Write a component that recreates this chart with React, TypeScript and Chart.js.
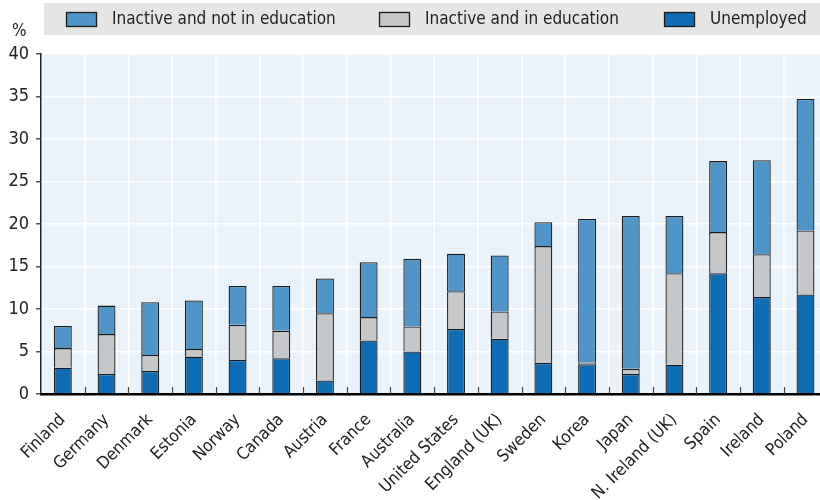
import React, { useEffect, useRef } from "react";
import { Chart, registerables } from "chart.js";

Chart.register(...registerables);

const categories = ["Finland", "Germany", "Denmark", "Estonia", "Norway", "Canada", "Austria", "France", "Australia", "United States", "England (UK)", "Sweden", "Korea", "Japan", "N. Ireland (UK)", "Spain", "Ireland", "Poland"];
const unemployed = [3.1, 2.35, 2.7, 4.4, 4.0, 4.2, 1.6, 6.3, 5.0, 7.65, 6.5, 3.65, 3.5, 2.35, 3.45, 14.2, 11.4, 11.7];
const inactiveInEducation = [2.3, 4.7, 1.9, 0.9, 4.15, 3.25, 7.9, 2.75, 2.95, 4.45, 3.2, 13.75, 0.2, 0.63, 10.75, 4.85, 5.05, 7.55];
const inactiveNotInEducation = [2.6, 3.35, 6.2, 5.7, 4.55, 5.25, 4.1, 6.45, 7.95, 4.4, 6.6, 2.8, 16.9, 17.97, 6.75, 8.35, 11.05, 15.45];
const yTicks = [0, 5, 10, 15, 20, 25, 30, 35, 40];

const FONT = "'Liberation Sans Narrow', 'DejaVu Sans Condensed', 'DejaVu Sans', sans-serif";
const legendX = [66, 379, 664];

const decorPlugin = {
  id: "decor",
  beforeDraw(chart: any) {
    const { ctx, chartArea } = chart;
    ctx.save();
    // legend band
    ctx.fillStyle = "#e5e5e6";
    ctx.fillRect(44, 3, 820 - 44, 32);
    // legend items (reverse dataset order)
    const ds = chart.data.datasets.slice().reverse();
    ctx.font = "17px " + FONT;
    ctx.textBaseline = "middle";
    ctx.textAlign = "left";
    ds.forEach((d: any, i: number) => {
      const x = legendX[i];
      ctx.fillStyle = d.backgroundColor;
      ctx.fillRect(x, 12, 31, 15);
      ctx.strokeStyle = "#1b1b1b";
      ctx.lineWidth = 1.3;
      ctx.strokeRect(x + 0.5, 12.5, 30, 14);
      ctx.fillStyle = "#222";
      ctx.fillText(d.label, x + 46, 20);
    });
    // plot bg
    ctx.fillStyle = "#eaf2fa";
    ctx.fillRect(chartArea.left, chartArea.top, chartArea.right - chartArea.left, chartArea.bottom - chartArea.top);
    // % label
    ctx.fillStyle = "#222";
    ctx.font = "17px " + FONT;
    ctx.textAlign = "left";
    ctx.textBaseline = "alphabetic";
    ctx.fillText("%", 12, 36);
    ctx.restore();
  },
  afterDatasetsDraw(chart: any) {
    const { ctx, chartArea } = chart;
    const xs = chart.scales.x;
    ctx.save();
    ctx.strokeStyle = "#444";
    ctx.lineWidth = 1.2;
    for (let i = 1; i < categories.length; i++) {
      const x = Math.round((xs.getPixelForTick(i - 1) + xs.getPixelForTick(i)) / 2) + 0.5;
      ctx.beginPath();
      ctx.moveTo(x, chartArea.bottom);
      ctx.lineTo(x, chartArea.bottom - 7);
      ctx.stroke();
    }
    ctx.restore();
  },
};

export default function App() {
  const ref = useRef<HTMLCanvasElement>(null);
  useEffect(() => {
    const border = "#1b1b1b";
    const common = { borderColor: border, borderWidth: 1.3, barPercentage: 0.41, categoryPercentage: 1 };
    const chart = new Chart(ref.current!, {
      type: "bar",
      data: {
        labels: categories,
        datasets: [
          { label: "Unemployed", data: unemployed, backgroundColor: "#0e6db4", ...common },
          { label: "Inactive and in education", data: inactiveInEducation, backgroundColor: "#c6c7c9", ...common },
          { label: "Inactive and not in education", data: inactiveNotInEducation, backgroundColor: "#4e95c9", ...common },
        ],
      },
      options: {
        animation: false,
        responsive: false,
        layout: { padding: { top: 54, right: 3, left: 0, bottom: 0 } },
        plugins: {
          tooltip: { enabled: false },
          legend: { display: false },
        },
        scales: {
          x: {
            stacked: true,
            grid: { color: "#ffffff", lineWidth: 1.5, drawTicks: false, offset: true },
            border: { color: "#000", width: 2.5 },
            afterFit: (s: any) => {
              s.height = 106;
            },
            ticks: {
              color: "#222",
              font: { family: FONT, size: 17 },
              maxRotation: 45,
              minRotation: 45,
              padding: 16,
              autoSkip: false,
            },
          },
          y: {
            stacked: true,
            min: 0,
            max: 40,
            afterBuildTicks: (s: any) => {
              s.ticks = yTicks.map((v) => ({ value: v }));
            },
            afterFit: (s: any) => {
              s.width = 41;
            },
            grid: { color: "#ffffff", lineWidth: 1.5, tickColor: "#555", tickLength: 5 },
            border: { color: "#222", width: 1.5 },
            ticks: { color: "#222", font: { family: FONT, size: 18 }, padding: 7 },
          },
        },
      },
      plugins: [decorPlugin],
    });
    return () => chart.destroy();
  }, []);
  return (
    <div style={{ position: "fixed", left: 0, top: 0, width: 820, height: 500, background: "#fff", overflow: "hidden" }}>
      <canvas ref={ref} width={836} height={500} style={{ width: 836, height: 500, display: "block" }} />
    </div>
  );
}
